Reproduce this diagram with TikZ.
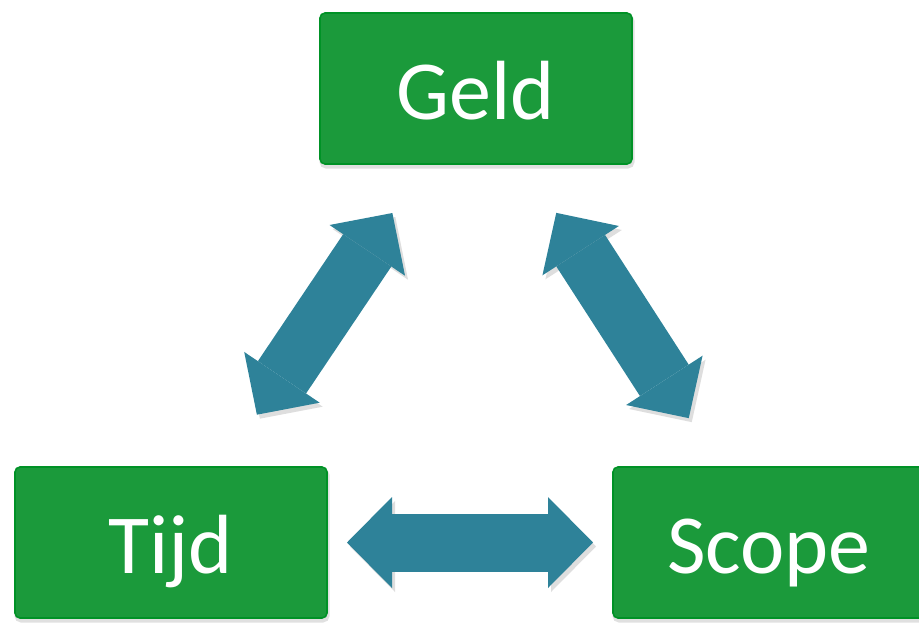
\documentclass[tikz,border=0pt]{standalone}
\usepackage{fontspec}
\setmainfont{Carlito}
\usepackage{tikz}
\usetikzlibrary{arrows.meta,positioning}
\definecolor{boxgreen}{RGB}{27,154,59}
\definecolor{boxedge}{RGB}{0,146,38}
\definecolor{arrowblue}{RGB}{46,130,153}

\begin{document}
\begin{tikzpicture}[
    node distance=454pt,
    font=\fontsize{84}{84}\selectfont,
    box/.style={
		rectangle,
		rounded corners=5pt,
		draw=boxedge,
		line width=1.6pt,
		fill=boxgreen,
		text=white,
		text height=62pt,
		text depth=0pt,
		inner sep=0pt,
		minimum width=312pt,
		minimum height=151pt,
		preaction={fill=black!12, draw=black!12, line width=3pt, transform canvas={shift={(1pt,-3pt)}}}
	},
	bigarrow/.style={
		draw=arrowblue,
		line width=58pt,
		{Triangle[width=91pt,length=45pt,line width=0pt 0]}-{Triangle[width=91pt,length=45pt,line width=0pt 0]},
		preaction={draw=black!13, transform canvas={shift={(3pt,-4pt)}}}
	}
  ]
  \useasboundingbox (0,0) rectangle (919pt,-625pt);

  % the three boxes
  \node [box] (geld) at (476pt,-88.5pt) {Geld};
  \node [box, below of=geld, xshift=-305pt] (tijd) {Tijd};
  \node [box, below of=geld, xshift=293pt] (scope) {Scope};

  % double arrows between them
  \draw [bigarrow, shorten <=154pt, shorten >=150pt] (tijd.center) -- (geld.center);
  \draw [bigarrow, shorten <=148pt, shorten >=148pt] (geld.center) -- (scope.center);
  \draw [bigarrow, shorten <=176pt, shorten >=176pt] (tijd.center) -- (scope.center);

\end{tikzpicture}
\end{document}
